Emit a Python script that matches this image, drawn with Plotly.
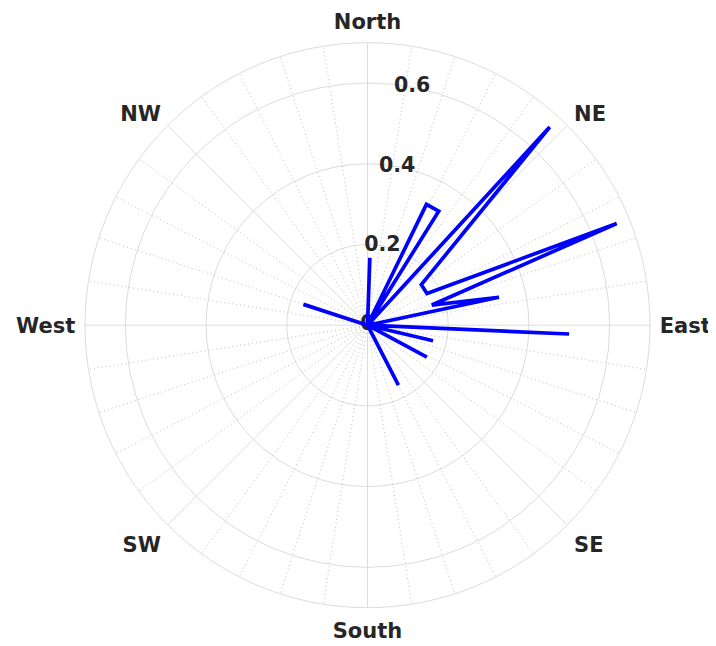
import plotly.graph_objects as go

# ---- data (compass degrees, clockwise from North; radius = relative frequency)
path_theta = [0, 2, 2, 26, 32, 32, 42.6, 53, 62, 67.8, 72.6, 78, 78,
              92.5, 92.5, 103.4, 103.4, 118.2, 118.2, 152.7, 152.7, 288, 288]
path_r = [0, 0.167, 0, 0.333, 0.333, 0, 0.667, 0.167, 0.167, 0.667, 0.167, 0.333, 0,
          0.5, 0, 0.167, 0, 0.167, 0, 0.167, 0, 0.167, 0]

compass_angles = [0, 45, 90, 135, 180, 225, 270, 315]
compass_labels = ["North", "NE", "East", "SE", "South", "SW", "West", "NW"]

r_tick_vals = [0, 0.2, 0.4, 0.6]
r_tick_text = ["0", "0.2", "0.4", "0.6"]
r_max = 0.7

TEXT = "#262626"
GRID = "#dcdcdc"
FONT = "DejaVu Sans"

fig = go.Figure()

# minor (dotted) angular grid every 9 degrees
minor_t, minor_r = [], []
for a in range(0, 360, 9):
    if a % 45 != 0:
        minor_t += [a, a, None]
        minor_r += [0, r_max, None]
fig.add_trace(go.Scatterpolar(
    theta=minor_t, r=minor_r, mode="lines", connectgaps=False,
    line=dict(color="#bdbdbd", width=1, dash="1px,3px"),
    hoverinfo="skip", showlegend=False))

# radial tick labels along ~10.6 degrees
fig.add_trace(go.Scatterpolar(
    theta=[10.6] * len(r_tick_vals), r=r_tick_vals, mode="text",
    text=r_tick_text, textposition="middle center",
    textfont=dict(family=FONT, size=20.5, color=TEXT, weight="bold"),
    hoverinfo="skip", showlegend=False))

# data path
fig.add_trace(go.Scatterpolar(
    theta=path_theta, r=path_r, mode="lines",
    line=dict(color="#0000ff", width=3.7),
    showlegend=False))

# page body adds an 8px margin, so the figure is laid out in a 708x638 box
W, H = 708, 638
cx, cy_top, rad = 359.5, 317.2, 282.5
cy = H - cy_top

fig.update_layout(
    width=W, height=H, autosize=False,
    margin=dict(l=0, r=0, t=0, b=0),
    paper_bgcolor="white",
    showlegend=False,
    polar=dict(
        domain=dict(x=[(cx - rad) / W, (cx + rad) / W],
                    y=[(cy - rad) / H, (cy + rad) / H]),
        bgcolor="white",
        radialaxis=dict(range=[0, r_max], tickvals=r_tick_vals[1:],
                        showticklabels=False, ticks="", showline=False,
                        gridcolor=GRID, gridwidth=1),
        angularaxis=dict(direction="clockwise", rotation=90,
                         tickmode="array", tickvals=compass_angles,
                         ticktext=compass_labels,
                         ticks="outside", ticklen=5,
                         tickcolor="rgba(0,0,0,0)",
                         tickfont=dict(family=FONT, size=21, color=TEXT,
                                       weight="bold"),
                         showline=True, linecolor=GRID, linewidth=1,
                         showgrid=True, gridcolor=GRID, gridwidth=1),
    ),
)

fig.write_html("out.html")
